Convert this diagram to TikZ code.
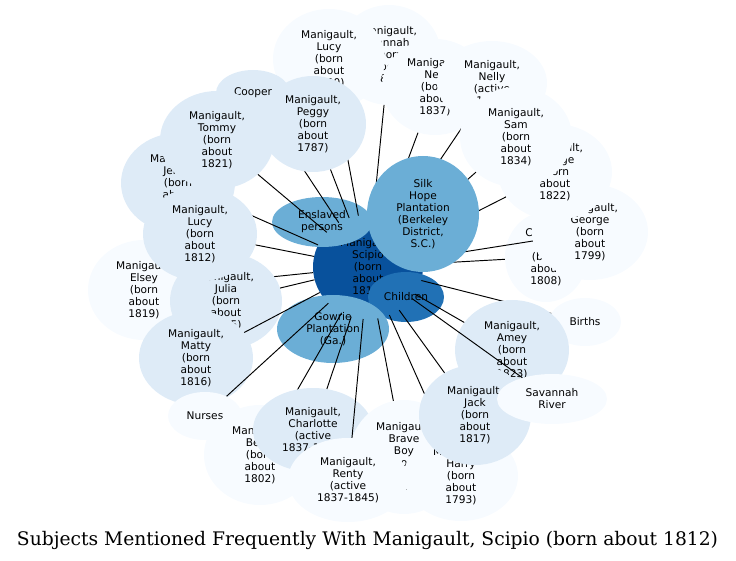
\documentclass[tikz,border=0pt]{standalone}
\usepackage{fontspec}
\usepackage{graphicx}
\usetikzlibrary{shapes.geometric}
\newfontfamily\nodefont{DejaVu Sans}
\newfontfamily\titlefont{DejaVu Serif}
\definecolor{cA}{HTML}{08519C}
\definecolor{cB}{HTML}{2171B5}
\definecolor{cC}{HTML}{6BAED6}
\definecolor{cL}{HTML}{DEEBF7}
\definecolor{cV}{HTML}{F7FBFF}
\begin{document}
\begin{tikzpicture}[x=1pt,y=-1pt,
  nd/.style={ellipse, draw=none, inner sep=0pt, align=center, text=black,
    font=\nodefont\fontsize{10.6}{12}\selectfont},
  sz/.style 2 args={minimum width=#1, minimum height=#2},
  conn/.style={draw=black, line width=0.95pt}]
\useasboundingbox (0,0) rectangle (736,561);
% hub and overlapping category nodes
\node[nd, fill=cA, sz={110}{104}] (sc) at (368,267) {Manigault,\\Scipio\\(born\\about\\1812)};
\node[nd, fill=cC, sz={100}{50}] (ens) at (322,222) {Enslaved\\persons};
\node[nd, fill=cB, sz={76}{50}] (chi) at (406,297) {Children};
\node[nd, fill=cC, sz={112}{68}] (gow) at (333,329) {Gowrie\\Plantation\\(Ga.)};
% top
\node[nd, fill=cV, sz={104}{100}] (hannah) at (389,55) {Manigault,\\Hannah\\(born\\about\\1800)};
\draw[conn] (sc) -- (hannah);
\node[nd, fill=cV, sz={112}{100}] (lucya) at (329,59) {Manigault,\\Lucy\\(born\\about\\1790)};
\draw[conn] (sc) -- (lucya);
\node[nd, fill=cL, sz={74}{46}] (cooper) at (253,93) {Cooper};
\draw[conn] (sc) -- (cooper);
\node[nd, fill=cL, sz={114}{100}] (jenny) at (178,183) {Manigault,\\Jenny\\(born\\about\\1818)};
\draw[conn] (sc) -- (jenny);
\node[nd, fill=cL, sz={114}{98}] (tommy) at (217,140) {Manigault,\\Tommy\\(born\\about\\1821)};
\draw[conn] (sc) -- (tommy);
\node[nd, fill=cL, sz={106}{96}] (peggy) at (313,124) {Manigault,\\Peggy\\(born\\about\\1787)};
\draw[conn] (sc) -- (peggy);
\node[nd, fill=cV, sz={106}{96}] (ned) at (435,87) {Manigault,\\Ned\\(born\\about\\1837)};
\draw[conn] (sc) -- (ned);
\node[nd, fill=cV, sz={110}{84}] (nelly) at (492,83) {Manigault,\\Nelly\\(active\\1837)};
\draw[conn] (sc) -- (nelly);
% right
\node[nd, fill=cV, sz={82}{90}] (cb) at (546,257) {Cooper,\\Ben\\(born\\about\\1808)};
\node[nd, fill=cV, sz={116}{96}] (gb) at (590,232) {Manigault,\\George\\(born\\about\\1799)};
\draw[conn] (sc) -- (gb);
\node[nd, fill=cV, sz={114}{96}] (ga) at (555,172) {Manigault,\\George\\(born\\about\\1822)};
\draw[conn] (sc) -- (ga);
\node[nd, fill=cV, sz={112}{100}] (sam) at (516,137) {Manigault,\\Sam\\(born\\about\\1834)};
\draw[conn] (sc) -- (sam);
\draw[conn] (sc) -- (cb);
% left
\node[nd, fill=cV, sz={112}{100}] (elsey) at (144,290) {Manigault,\\Elsey\\(born\\about\\1819)};
\draw[conn] (sc) -- (elsey);
\node[nd, fill=cL, sz={112}{96}] (julia) at (226,301) {Manigault,\\Julia\\(born\\about\\1815)};
\node[nd, fill=cL, sz={114}{94}] (lucyb) at (200,234) {Manigault,\\Lucy\\(born\\about\\1812)};
\draw[conn] (sc) -- (lucyb);
\draw[conn] (sc) -- (julia);
\node[nd, fill=cL, sz={114}{94}] (matty) at (196,358) {Manigault,\\Matty\\(born\\about\\1816)};
\draw[conn] (sc) -- (matty);
\node[nd, fill=cV, sz={74}{48}] (nurses) at (205,416) {Nurses};
\draw[conn] (sc) -- (nurses);
% lower right
\node[nd, fill=cV, sz={72}{48}] (births) at (585,322) {Births};
\draw[conn] (sc) -- (births);
\node[nd, fill=cL, sz={114}{100}] (amey) at (512,350) {Manigault,\\Amey\\(born\\about\\1823)};
\draw[conn] (sc) -- (amey);
% bottom
\node[nd, fill=cV, sz={112}{100}] (betty) at (260,455) {Manigault,\\Betty\\(born\\about\\1802)};
\draw[conn] (sc) -- (betty);
\node[nd, fill=cL, sz={120}{84}] (charlotte) at (313,430) {Manigault,\\Charlotte\\(active\\1837-1845)};
\draw[conn] (sc) -- (charlotte);
\node[nd, fill=cV, sz={110}{114}] (brave) at (404,457) {Manigault,\\Brave\\Boy\\(born\\about\\1815)};
\draw[conn] (sc) -- (brave);
\node[nd, fill=cV, sz={120}{84}] (renty) at (348,480) {Manigault,\\Renty\\(active\\1837-1845)};
\draw[conn] (sc) -- (renty);
\node[nd, fill=cV, sz={114}{90}] (harry) at (461,476) {Manigault,\\Harry\\(born\\about\\1793)};
\draw[conn] (sc) -- (harry);
\node[nd, fill=cL, sz={112}{100}] (jack) at (475,415) {Manigault,\\Jack\\(born\\about\\1817)};
\draw[conn] (sc) -- (jack);
\node[nd, fill=cV, sz={110}{50}] (sav) at (552,399) {Savannah\\River};
\draw[conn] (sc) -- (sav);
% Silk Hope on top
\node[nd, fill=cC, sz={112}{116}] (silk) at (423,214) {Silk\\Hope\\Plantation\\(Berkeley\\District,\\S.C.)};
% title
\node[inner sep=0pt] (title) at (367.5,540) {\resizebox{701pt}{!}{\titlefont Subjects Mentioned Frequently With Manigault, Scipio (born about 1812)}};
\end{tikzpicture}
\end{document}
